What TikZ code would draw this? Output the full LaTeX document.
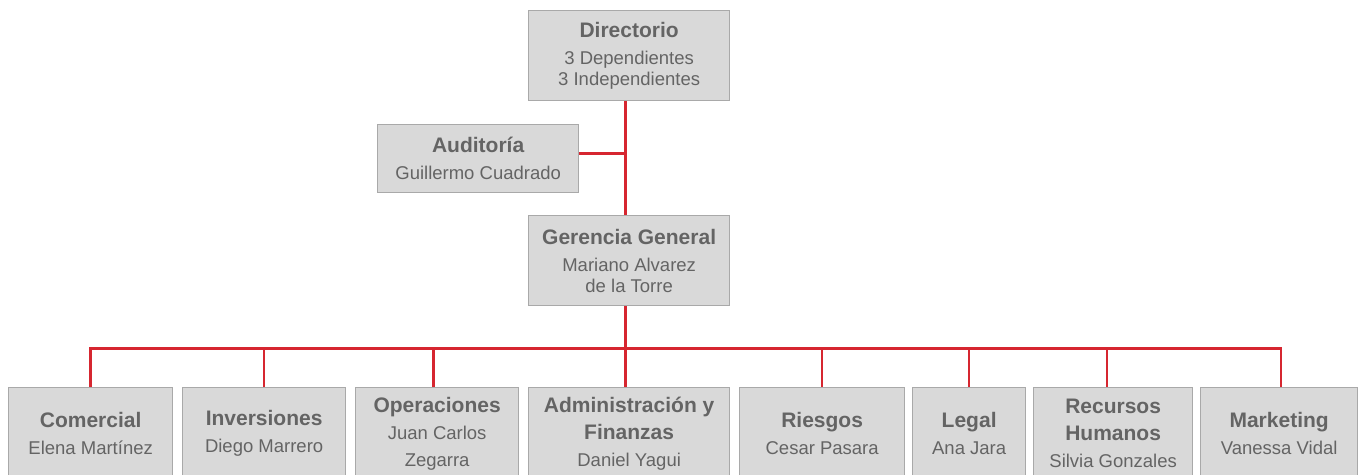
\documentclass[tikz,border=0pt]{standalone}
\usepackage{fontspec}
\setmainfont{Liberation Sans}
\definecolor{boxfill}{HTML}{D9D9D9}
\definecolor{boxline}{HTML}{A9A9A9}
\definecolor{txt}{HTML}{646464}
\definecolor{redline}{HTML}{D62630}
\newcommand{\subf}{\fontsize{18.5pt}{21pt}\selectfont}
\newcommand{\ttlf}{\bfseries\fontsize{21pt}{21pt}\selectfont}
\tikzset{
  orgbox/.style={draw=boxline, fill=boxfill, line width=1.3pt, inner sep=0pt,
    align=center, text=txt, font=\subf, anchor=north west},
  link/.style={draw=redline, line width=2.5pt}
}
\begin{document}
\begin{tikzpicture}[x=1pt,y=-1pt]
\useasboundingbox (0,0) rectangle (1365,474);
\clip (0,0) rectangle (1365,474);
\fill[white] (0,0) rectangle (1365,474);
% top boxes
\node[orgbox, minimum width=201pt, minimum height=90pt] (dir) at (528,10)
  {{\ttlf Directorio}\\[6pt]3 Dependientes\\3 Independientes};
\node[orgbox, minimum width=201pt, minimum height=68pt] (aud) at (377,124)
  {{\ttlf Auditoría}\\[6pt]Guillermo Cuadrado};
\node[orgbox, minimum width=201pt, minimum height=90pt] (ger) at (528,215)
  {{\ttlf Gerencia General}\\[6pt]Mariano Alvarez\\de la Torre};
% bottom boxes
\node[orgbox, minimum width=164pt, minimum height=92pt] (com) at (8,387)
  {{\ttlf Comercial}\\[6pt]Elena Martínez};
\node[orgbox, minimum width=163pt, minimum height=92pt] (inv) at (182,387)
  {{\ttlf Inversiones}\\[6pt]Diego Marrero};
\node[orgbox, minimum width=163pt, minimum height=92pt] (ope) at (355,387)
  {{\ttlf Operaciones}\\[6pt]Juan Carlos\\[6pt]Zegarra};
\node[orgbox, minimum width=201pt, minimum height=92pt] (adm) at (528,387)
  {{\ttlf Administración y}\\[6pt]{\ttlf Finanzas}\\[6pt]Daniel Yagui};
\node[orgbox, minimum width=165pt, minimum height=92pt] (rie) at (739,387)
  {{\ttlf Riesgos}\\[6pt]Cesar Pasara};
\node[orgbox, minimum width=113pt, minimum height=92pt] (leg) at (912,387)
  {{\ttlf Legal}\\[6pt]Ana Jara};
\node[orgbox, minimum width=159pt, minimum height=92pt] (rrh) at (1033,387)
  {{\ttlf Recursos}\\[6pt]{\ttlf Humanos}\\[6pt]Silvia Gonzales};
\node[orgbox, minimum width=157pt, minimum height=92pt] (mkt) at (1200,387)
  {{\ttlf Marketing}\\[6pt]Vanessa Vidal};
% connectors
\coordinate (bus) at ([xshift=-3.5pt,yshift=-42pt]ger.south);
\draw[link] ([xshift=-3.5pt]dir.south) -- ([xshift=-3.5pt]ger.north);
\draw[link] ([yshift=5pt]aud.east) -- ([yshift=5pt,xshift=-3.5pt]aud.east -| dir.south);
\draw[link] ([xshift=-3.5pt]ger.south) -- (bus);
\draw[link] (bus) -| (com.north);
\draw[link] (bus) -| (inv.north);
\draw[link] (bus) -| ([xshift=-3.5pt]ope.north);
\draw[link] (bus) -- ([xshift=-3.5pt]adm.north);
\draw[link] (bus) -| (rie.north);
\draw[link] (bus) -| (leg.north);
\draw[link] (bus) -| ([xshift=-6pt]rrh.north);
\draw[link] (bus) -| ([xshift=2pt]mkt.north);
\end{tikzpicture}
\end{document}
